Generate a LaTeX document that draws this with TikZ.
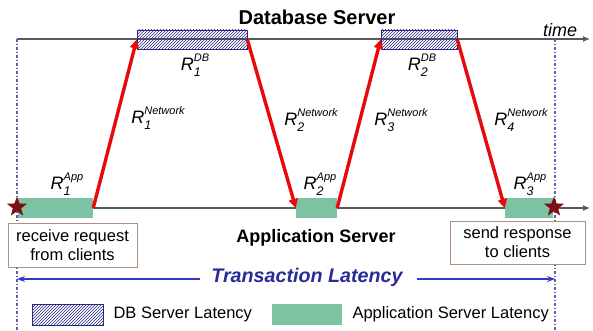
\documentclass[tikz,border=0pt]{standalone}
\usepackage{fontspec}
\setmainfont{Liberation Sans}
\usetikzlibrary{arrows.meta,patterns,shapes.geometric}

\definecolor{appgreen}{RGB}{124,194,163}
\definecolor{dbnavy}{RGB}{40,40,130}
\definecolor{starred}{RGB}{125,15,20}
\definecolor{netred}{RGB}{232,10,10}
\definecolor{latblue}{RGB}{55,55,200}
\definecolor{latdark}{RGB}{40,45,150}
\definecolor{boxedge}{RGB}{175,145,125}
\definecolor{guide}{RGB}{95,95,175}

% R with sub- and superscript, italic sans
\newcommand{\rlat}[2]{\textit{R}\rlap{\raisebox{-5.5pt}{\fontsize{12.5}{13}\selectfont\itshape #1}}%
  \raisebox{9.5pt}{\fontsize{11}{12}\selectfont\itshape #2}}

\begin{document}
\begin{tikzpicture}[x=1pt,y=-1pt,
    timeline/.style={line width=1.1pt,draw=black!65,-{Latex[length=7pt,width=6pt]}},
    guideline/.style={line width=1.1pt,draw=guide,dash pattern=on 3pt off 2pt on 1pt off 2pt},
    dbbox/.style={draw=dbnavy,line width=0.6pt,pattern=north east lines,pattern color=dbnavy,inner sep=0pt},
    appbox/.style={fill=appgreen,inner sep=0pt},
    netarrow/.style={line width=3.4pt,draw=netred,-{Triangle[length=9pt,width=9pt]}},
    latarrow/.style={line width=1.2pt,draw=latblue,-{Stealth[length=8pt,width=6pt]}},
    evstar/.style={star,star points=5,star point ratio=2.4,fill=starred,minimum size=21pt,inner sep=0pt},
    evbox/.style={draw=boxedge,line width=0.9pt,fill=white,align=center,inner sep=0pt,
      font=\fontsize{16.5}{19}\selectfont},
    lbl/.style={font=\fontsize{18}{21}\selectfont,inner sep=0pt},
    title/.style={font=\fontsize{18}{21}\selectfont\bfseries},
    legendtxt/.style={font=\fontsize{16.5}{19}\selectfont,anchor=west}]
  \useasboundingbox (0,0) rectangle (593,331);

  % time axes
  \coordinate (dbstart) at (17,39);
  \coordinate (dbend) at (590,39);
  \coordinate (appstart) at (17,208);
  \coordinate (append) at (590,208);
  \draw[timeline] (dbstart) -- (dbend);
  \draw[timeline] (appstart) -- (append);

  % start and end of the transaction
  \coordinate (guideLtop) at (17,39);
  \coordinate (guideLbot) at (17,331);
  \coordinate (guideRtop) at (555,39);
  \coordinate (guideRbot) at (555,331);
  \draw[guideline] (guideLtop) -- (guideLbot);
  \draw[guideline] (guideRtop) -- (guideRbot);

  \node[title,font=\fontsize{20}{23}\selectfont\bfseries] (dbtitle) at (317,17) {Database Server};
  \node[title] (apptitle) at (316,238) {Application Server};
  \node[lbl,font=\fontsize{18}{21}\selectfont\itshape] (time) at (560,30) {time};

  % server phases
  \node[dbbox,minimum width=110pt,minimum height=19pt] (db1) at (192,39.5) {};
  \node[dbbox,minimum width=76pt,minimum height=19pt] (db2) at (419,39.5) {};
  \node[appbox,minimum width=75pt,minimum height=20pt] (app1) at (55.5,208) {};
  \node[appbox,minimum width=41pt,minimum height=20pt] (app2) at (316.5,208) {};
  \node[appbox,minimum width=48pt,minimum height=20pt] (app3) at (529,208) {};

  % network hops
  \draw[netarrow] (app1.east) -- (db1.west);
  \draw[netarrow] (db1.east) -- (app2.west);
  \draw[netarrow] (app2.east) -- (db2.west);
  \draw[netarrow] (db2.east) -- (app3.west);

  \node[lbl] (r1db) at (195,65) {\rlat{1}{DB}};
  \node[lbl] (r2db) at (422,65) {\rlat{2}{DB}};
  \node[lbl] (r1net) at (158,118) {\rlat{1}{Network}};
  \node[lbl] (r2net) at (311,120) {\rlat{2}{Network}};
  \node[lbl] (r3net) at (401,120) {\rlat{3}{Network}};
  \node[lbl] (r4net) at (521,120) {\rlat{4}{Network}};
  \node[lbl] (r1app) at (67,184) {\rlat{1}{App}};
  \node[lbl] (r2app) at (320,184) {\rlat{2}{App}};
  \node[lbl] (r3app) at (530,184) {\rlat{3}{App}};

  \node[evstar] (startstar) at (17,207) {};
  \node[evstar] (endstar) at (554,207) {};

  \node[evbox,minimum width=129pt,minimum height=44pt] (receive) at (72.5,245) {receive request\\from clients};
  \node[evbox,minimum width=135pt,minimum height=43pt] (respond) at (517.5,242.5) {send response\\to clients};

  % transaction latency
  \node[font=\fontsize{19.7}{22}\selectfont\bfseries\itshape,text=latdark] (translat) at (307,277) {Transaction Latency};
  \coordinate (latL) at (17,279);
  \coordinate (latR) at (555,279);
  \coordinate (latLfrom) at (200,279);
  \coordinate (latRfrom) at (417,279);
  \draw[latarrow] (latLfrom) -- (latL);
  \draw[latarrow] (latRfrom) -- (latR);

  % legend
  \node[dbbox,minimum width=71pt,minimum height=21pt] (legdb) at (67.5,314.5) {};
  \node[legendtxt] (legdbtxt) at (110,314) {DB Server Latency};
  \node[appbox,minimum width=70pt,minimum height=21pt] (legapp) at (307,314.5) {};
  \node[legendtxt] (legapptxt) at (349,314) {Application Server Latency};
\end{tikzpicture}
\end{document}
